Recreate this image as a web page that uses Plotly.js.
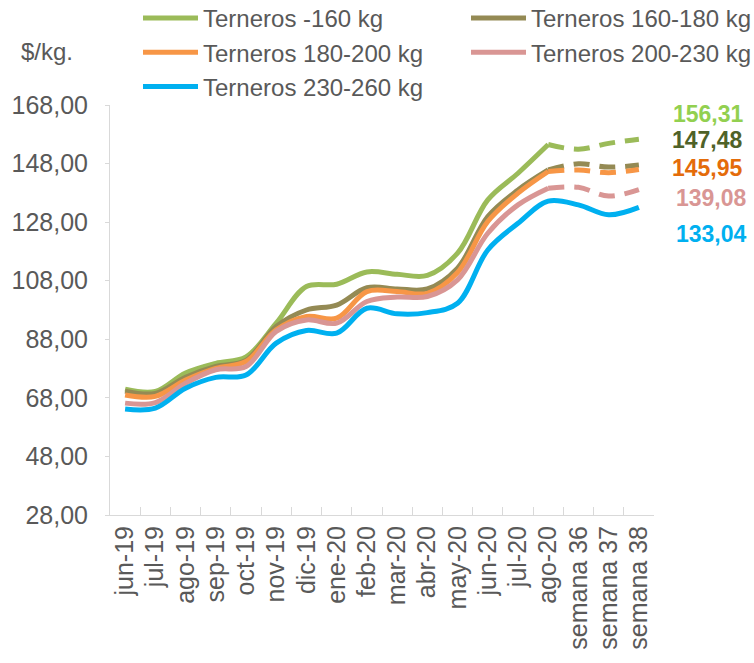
<!DOCTYPE html>
<html>
<head>
<meta charset="utf-8">
<script src="https://cdn.plot.ly/plotly-3.0.1.min.js"></script>
<style>
html,body{margin:0;padding:0;background:#fff;}
#chart{width:754px;height:663px;}
</style>
</head>
<body>
<div id="chart"></div>
<script>
const categories = ['jun-19','jul-19','ago-19','sep-19','oct-19','nov-19','dic-19','ene-20','feb-20','mar-20','abr-20','may-20','jun-20','jul-20','ago-20','semana 36','semana 37','semana 38'];

const seriesNames = ['Terneros -160 kg','Terneros 160-180 kg','Terneros 180-200 kg','Terneros 200-230 kg','Terneros 230-260 kg'];

const terneros160 =     [71.0, 70.2, 76.5, 79.8, 82.0, 93.5, 106.0, 106.8, 111.0, 110.2, 109.8, 117.4, 135.6, 144.7, 154.5, 152.9, 154.9, 156.31];
const terneros160_180 = [70.3, 69.5, 75.0, 78.7, 80.8, 92.4, 98.0, 99.7, 105.6, 105.2, 105.2, 112.3, 129.9, 139.0, 145.8, 147.9, 146.8, 147.48];
const terneros180_200 = [69.0, 68.5, 74.1, 78.1, 80.4, 91.2, 95.8, 95.2, 104.3, 104.3, 103.7, 110.8, 128.2, 137.9, 145.3, 145.8, 144.9, 145.95];
const terneros200_230 = [66.2, 66.4, 73.0, 77.6, 78.7, 90.7, 94.6, 93.5, 100.9, 102.4, 102.6, 108.3, 124.2, 133.9, 139.6, 139.9, 136.9, 139.08];
const terneros230_260 = [64.2, 64.5, 71.3, 75.0, 75.8, 86.7, 91.0, 90.1, 98.6, 96.7, 97.1, 100.3, 118.5, 127.6, 135.2, 133.9, 130.5, 133.04];

const lineColors = ['#9BBB59','#948A54','#F79646','#D99694','#00B0F0'];
const labelColors = ['#92D050','#4F6228','#E46C0A','#D99694','#00B0F0'];
const dashedAfterIndex = [14, 14, 14, 14, null]; // last solid point index; null = all solid
const legendColumn = ['legend','legend2','legend','legend2','legend'];

const yTicks = [28, 48, 68, 88, 108, 128, 148, 168];

const allSeries = [terneros160, terneros160_180, terneros180_200, terneros200_230, terneros230_260];

const traces = [];
allSeries.forEach((vals, i) => {
  const cut = dashedAfterIndex[i];
  const solid = vals.map((v, k) => (cut === null || k <= cut) ? v : null);
  traces.push({
    x: categories, y: solid, type: 'scatter', mode: 'lines', name: seriesNames[i],
    line: {color: lineColors[i], width: 5, shape: 'spline', smoothing: 1},
    connectgaps: false, hoverinfo: 'skip', legend: legendColumn[i]
  });
  if (cut !== null) {
    const dashed = vals.map((v, k) => k >= cut ? v : null);
    traces.push({
      x: categories, y: dashed, type: 'scatter', mode: 'lines', name: seriesNames[i],
      line: {color: lineColors[i], width: 5, shape: 'spline', smoothing: 1, dash: '16px,10px'},
      showlegend: false, hoverinfo: 'skip'
    });
  }
});

const W = 754, H = 663;
const L = 110, R = 654, T = 105, B = 515;
const px = x => (x - L) / (R - L);
const py = y => (B - y) / (B - T);

const fmt = v => v.toFixed(2).replace('.', ',');
const labelPixelY = [114, 140, 168, 198, 234];
const labelPixelX = [708, 707, 707, 711, 711];
const annotations = allSeries.map((vals, i) => ({
  xref: 'paper', yref: 'paper',
  x: px(labelPixelX[i]), y: py(labelPixelY[i]),
  xanchor: 'center', yanchor: 'middle',
  text: '<b>' + fmt(vals[vals.length - 1]) + '</b>',
  showarrow: false,
  font: {family: 'Liberation Sans, Arial, sans-serif', size: 23, color: labelColors[i]}
}));
annotations.push({
  xref: 'paper', yref: 'paper', x: px(47), y: py(51),
  xanchor: 'center', yanchor: 'middle', text: '$/kg.', showarrow: false,
  font: {family: 'Liberation Sans, Arial, sans-serif', size: 24, color: '#595959'}
});

const legendFont = {family: 'Liberation Sans, Arial, sans-serif', size: 24, color: '#595959'};
const layout = {
  width: W, height: H,
  margin: {l: L, r: W - R, t: T, b: H - B, autoexpand: false},
  paper_bgcolor: '#ffffff', plot_bgcolor: '#ffffff',
  separators: ',.',
  font: {family: 'Liberation Sans, Arial, sans-serif', color: '#595959'},
  showlegend: true,
  legend: {
    orientation: 'v', x: px(138), xanchor: 'left', y: py(-4), yanchor: 'top',
    itemwidth: 55, tracegroupgap: 0, font: legendFont, bgcolor: 'rgba(0,0,0,0)'
  },
  legend2: {
    orientation: 'v', x: px(466), xanchor: 'left', y: py(-4), yanchor: 'top',
    itemwidth: 55, tracegroupgap: 0, font: legendFont, bgcolor: 'rgba(0,0,0,0)'
  },
  xaxis: {
    type: 'category', categoryorder: 'array', categoryarray: categories,
    range: [-0.5, categories.length - 0.5],
    tickmode: 'linear', tick0: 0, dtick: 1,
    showgrid: false, zeroline: false, showline: true, linecolor: '#D9D9D9', linewidth: 1,
    ticks: 'inside', ticklen: 8, tickcolor: '#D9D9D9', tickson: 'boundaries',
    tickangle: -90, tickfont: {size: 25, color: '#595959'}, fixedrange: true
  },
  yaxis: {
    range: [28, 168], tickvals: yTicks, tickformat: '.2f',
    showgrid: false, zeroline: false, showline: true, linecolor: '#D9D9D9', linewidth: 1,
    ticks: 'outside', ticklen: 4, tickcolor: '#D9D9D9', ticklabelstandoff: 12,
    tickfont: {size: 25, color: '#595959'}, fixedrange: true
  },
  annotations: annotations
};

Plotly.newPlot('chart', traces, layout, {displayModeBar: false, staticPlot: true});
</script>
</body>
</html>
